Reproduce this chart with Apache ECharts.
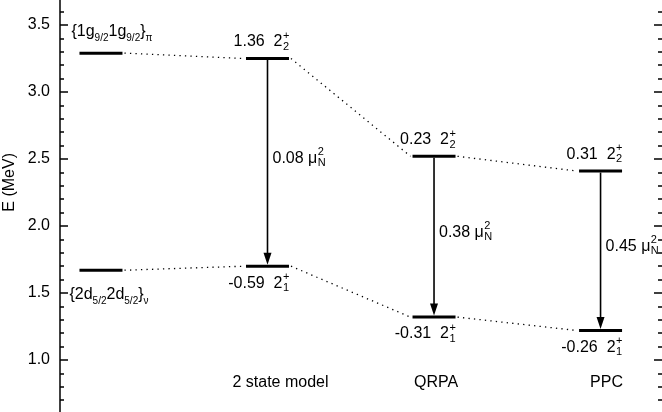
<!DOCTYPE html>
<html><head><meta charset="utf-8">
<script src="https://cdn.jsdelivr.net/npm/echarts@6/dist/echarts.min.js"></script>
<style>html,body{margin:0;padding:0;background:#fff}#c{width:662px;height:412px}</style>
</head><body><div id="c"></div>
<script>
// ---- data ----
const methods = ['', '2 state model', 'QRPA', 'PPC'];
const upperE = [3.29, 3.25, 2.52, 2.41];
const lowerE = [1.67, 1.70, 1.32, 1.22];
const upperLabel = ['', '1.36', '0.23', '0.31'];
const lowerLabel = ['', '-0.59', '-0.31', '-0.26'];
const b2Label = ['', '0.08', '0.38', '0.45'];
const upperConfig = [['{1g','b'],['9/2','s'],['1g','b'],['9/2','s'],['}','b'],['π','s']];
const lowerConfig = [['{2d','b'],['5/2','s'],['2d','b'],['5/2','s'],['}','b'],['ν','s']];

// ---- helpers ----
const FONT = '"Liberation Sans", Arial, Helvetica, sans-serif';
const BS = 16, SS = 11;
const HW = 21.5;
const cv = document.createElement('canvas').getContext('2d');
function tw(t, size){ cv.font = size + 'px ' + FONT; return cv.measureText(t).width; }
function txtB(text, x, B, size, align){
  return {type:'text', style:{text:text, x:x, y:B - 0.35*size, fill:'#000', font: size + 'px ' + FONT, align: align, verticalAlign:'middle'}};
}
function seq(x, B, parts){
  const out = [];
  parts.forEach(function(p){
    if (p[1] === 'b') { out.push(txtB(p[0], x, B, BS, 'left')); x += tw(p[0], BS); }
    else { out.push(txtB(p[0], x, B + 5, 10, 'left')); x += tw(p[0], 10); }
  });
  return out;
}
function stateLabel(R, yBar, val, sub, above){
  const B = above ? yBar - 11 : yBar + 22.5;
  const col = R - 6;
  return [
    txtB(val + '  2', col - 0.5, B, BS, 'right'),
    txtB('+', col, B - 8, SS, 'left'),
    txtB(sub, col, B + 3, SS, 'left')
  ];
}

const levelData = [];
for (let i = 0; i < methods.length; i++) {
  levelData.push([i, upperE[i], 1, i]);
  levelData.push([i, lowerE[i], 0, i]);
}
const connData = [];
for (let i = 0; i < methods.length - 1; i++) {
  connData.push([i, upperE[i], i + 1, upperE[i + 1]]);
  connData.push([i, lowerE[i], i + 1, lowerE[i + 1]]);
}
const arrowData = [];
for (let i = 1; i < methods.length; i++) arrowData.push([i, upperE[i], lowerE[i], i]);

const chart = echarts.init(document.getElementById('c'), null, {renderer:'canvas'});
const axisFont = {fontFamily: FONT, fontSize: BS, color:'#000'};
const mStyle = function(pad){ return {fontFamily:FONT, fontSize:BS, color:'#000', padding:[0,0,0,pad]}; };
chart.setOption({
  animation:false,
  backgroundColor:'#fff',
  grid:{left:60, right:0, top:-42, bottom:-15, containLabel:false, outerBoundsMode:'none'},
  xAxis:{type:'value', min:-0.246, max:3.369,
    axisLine:{show:false, onZero:false}, axisTick:{show:false}, splitLine:{show:false},
    axisLabel:{show:true, inside:true, margin:36, customValues:[1,2,3],
      formatter:function(v){const k = Math.round(v); return '{m' + k + '|' + methods[k] + '}';},
      rich:{m1:mStyle(26), m2:mStyle(4), m3:mStyle(12)},
      fontFamily:FONT, fontSize:BS, color:'#000'}
  },
  yAxis:[
    {type:'value', min:0.5, max:4.0, interval:0.5, position:'left',
      axisLine:{show:true, onZero:false, lineStyle:{color:'#000', width:1.5}},
      axisTick:{show:true, inside:true, length:8, lineStyle:{color:'#000', width:1.5}},
      minorTick:{show:true, splitNumber:5, length:4, lineStyle:{color:'#000', width:1.5}},
      splitLine:{show:false}, minorSplitLine:{show:false},
      axisLabel:Object.assign({margin:10, formatter:function(v){return v.toFixed(1);}}, axisFont)
    },
    {type:'value', min:0.5, max:4.0, interval:0.5, position:'right',
      axisLine:{show:false, onZero:false},
      axisTick:{show:true, inside:true, length:8, lineStyle:{color:'#000', width:1.5}},
      minorTick:{show:true, splitNumber:5, length:4, lineStyle:{color:'#000', width:1.5}},
      splitLine:{show:false}, axisLabel:{show:false}
    }
  ],
  graphic:[{type:'text', left:2, top:153, rotation:Math.PI/2,
    style:{text:'E (MeV)', font: BS + 'px ' + FONT, fill:'#000'}}],
  series:[
    {type:'custom', name:'connectors', data:connData, encode:{x:0,y:1}, clip:false, silent:true,
      renderItem:function(params, api){
        const p1 = api.coord([api.value(0), api.value(1)]);
        const p2 = api.coord([api.value(2), api.value(3)]);
        return {type:'line', shape:{x1:p1[0]+HW+2, y1:p1[1], x2:p2[0]-HW-2, y2:p2[1]},
          style:{stroke:'#000', lineWidth:1.3, lineDash:[1.3,4.2]}};
      }},
    {type:'custom', name:'arrows', data:arrowData, encode:{x:0,y:1}, clip:false, silent:true,
      renderItem:function(params, api){
        const pu = api.coord([api.value(0), api.value(1)]);
        const pl = api.coord([api.value(0), api.value(2)]);
        const x = pu[0], tip = pl[1] - 1.5;
        const i = api.value(3);
        const mid = (pu[1] + pl[1]) / 2 - 4;
        const lx = x + 5;
        const base = b2Label[i] + ' μ';
        const w = tw(base, BS);
        return {type:'group', children:[
          {type:'line', shape:{x1:x, y1:pu[1]+1.5, x2:x, y2:tip-10}, style:{stroke:'#000', lineWidth:1.6}},
          {type:'polygon', shape:{points:[[x-4,tip-12],[x+4,tip-12],[x,tip]]}, style:{fill:'#000'}},
          txtB(base, lx, mid + 5.5, BS, 'left'),
          txtB('2', lx + w + 0.5, mid - 3, SS, 'left'),
          txtB('N', lx + w + 0.5, mid + 8.5, SS, 'left')
        ]};
      }},
    {type:'custom', name:'levels', data:levelData, encode:{x:0,y:1}, clip:false, silent:true,
      renderItem:function(params, api){
        const p = api.coord([api.value(0), api.value(1)]);
        const up = api.value(2) === 1;
        const i = api.value(3);
        const L = p[0] - HW, R = p[0] + HW;
        let children = [{type:'line', shape:{x1:L, y1:p[1], x2:R, y2:p[1]}, style:{stroke:'#000', lineWidth:3}}];
        if (i === 0) {
          children = children.concat(up ? seq(L - 8, p[1] - 16, upperConfig) : seq(L - 10, p[1] + 30, lowerConfig));
        } else {
          children = children.concat(up ? stateLabel(R, p[1], upperLabel[i], '2', true)
                                        : stateLabel(R, p[1], lowerLabel[i], '1', false));
        }
        return {type:'group', children:children};
      }}
  ]
});
</script></body></html>
